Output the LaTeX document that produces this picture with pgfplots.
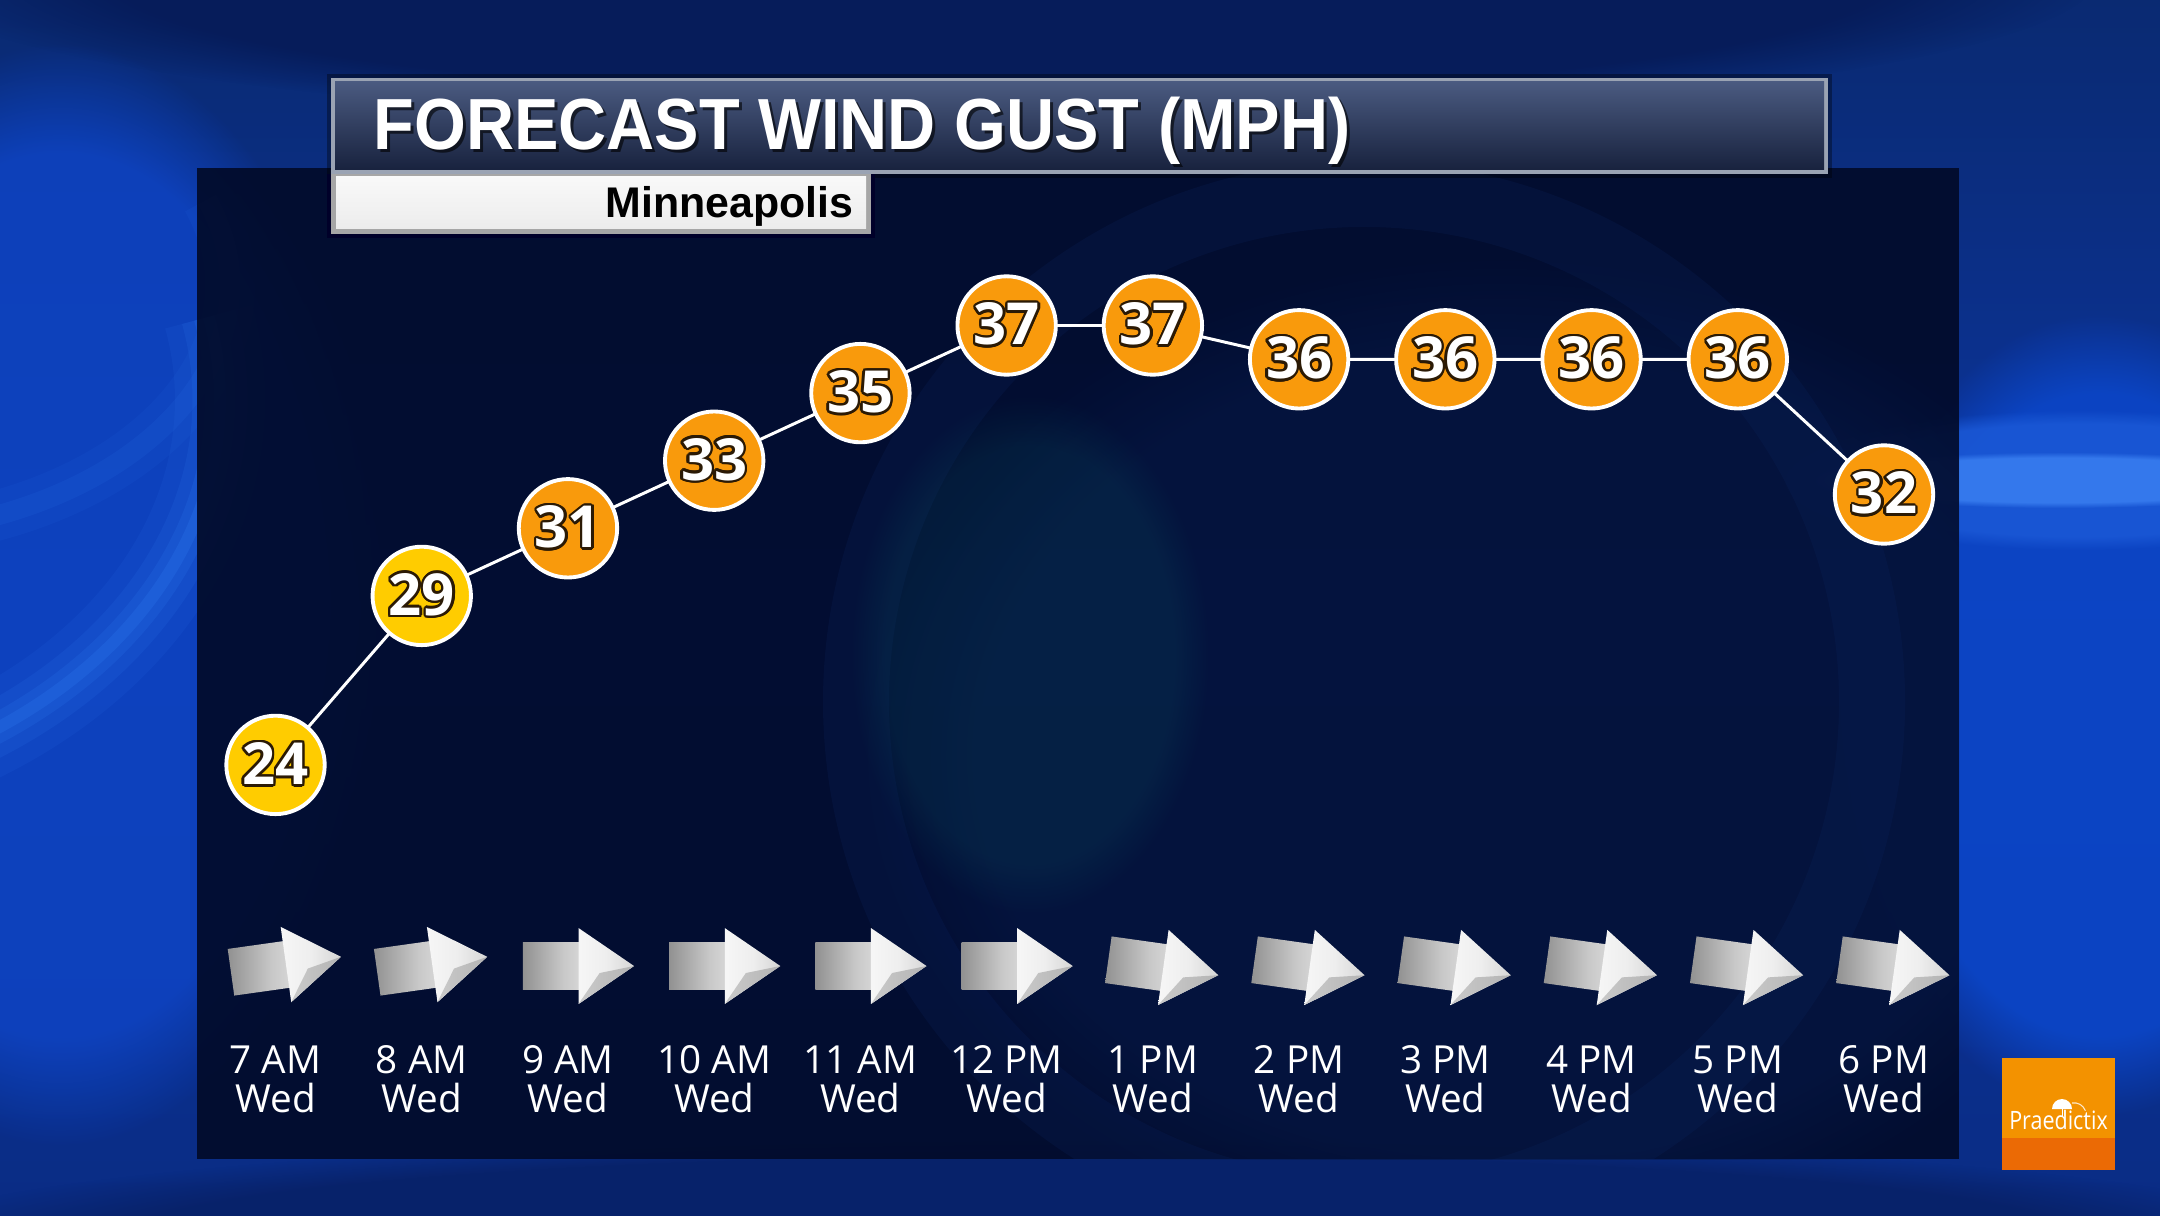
\documentclass[border=0pt]{standalone}
\usepackage{pgfplots}
\pgfplotsset{compat=1.18}
\usepackage{fontspec}
\usepackage[copies]{contour}
\usetikzlibrary{fadings}
\setmainfont{Open Sans}
\newfontfamily\titlefont[FakeStretch=0.92]{Liberation Sans}
\newfontfamily\subfont{Liberation Sans}
\newfontfamily\numfont{Open Sans}
\newfontfamily\logofont[FakeStretch=0.85]{Open Sans}

\definecolor{bgTop}{HTML}{0A2A72}
\definecolor{bgMid}{HTML}{0C35A0}
\definecolor{bgBot}{HTML}{0A2C84}
\definecolor{panelc}{HTML}{020B2A}
\definecolor{yel}{HTML}{FFCC00}
\definecolor{org}{HTML}{F99A0C}
\definecolor{numline}{HTML}{2B1A05}
\definecolor{arcblue}{HTML}{2D7AF0}
\definecolor{arrdark}{HTML}{6A6A6A}
\definecolor{arrmid}{HTML}{C8C8C8}
\definecolor{arrlight}{HTML}{EEEEEE}
\definecolor{arrhead}{HTML}{BDBDBD}
\definecolor{arrlow1}{HTML}{D6D6D6}
\definecolor{arrlow2}{HTML}{A8A8A8}
\definecolor{titTop}{HTML}{4A5A80}
\definecolor{titBot}{HTML}{18223E}
\definecolor{titBorder}{HTML}{9AA3B3}
\definecolor{logoA}{HTML}{F39200}
\definecolor{logoB}{HTML}{EB6A05}

\pgfdeclarehorizontalshading{shaftsh}{100bp}{color(0bp)=(arrdark); color(60bp)=(arrmid); color(100bp)=(arrlight)}
\pgfdeclarehorizontalshading{headsh}{100bp}{color(0bp)=(white); color(50bp)=(arrlight); color(100bp)=(arrhead)}
\pgfdeclarehorizontalshading{headsh2}{100bp}{color(0bp)=(arrlow1); color(100bp)=(arrlow2)}

\pgfdeclareplotmark{windarrow}{%
  \pgfpathmoveto{\pgfpoint{-12.8pt}{-6.7pt}}%
  \pgfpathlineto{\pgfpoint{3.5pt}{-6.7pt}}%
  \pgfpathlineto{\pgfpoint{3.5pt}{6.7pt}}%
  \pgfpathlineto{\pgfpoint{-12.8pt}{6.7pt}}%
  \pgfpathclose
  \pgfshadepath{shaftsh}{0}\pgfusepath{}%
  \pgfpathmoveto{\pgfpoint{3pt}{10.8pt}}%
  \pgfpathlineto{\pgfpoint{18.8pt}{0pt}}%
  \pgfpathlineto{\pgfpoint{3pt}{-10.8pt}}%
  \pgfpathclose
  \pgfshadepath{headsh}{0}\pgfusepath{}%
  \pgfpathmoveto{\pgfpoint{3pt}{-10.8pt}}%
  \pgfpathlineto{\pgfpoint{18.8pt}{0pt}}%
  \pgfpathlineto{\pgfpoint{9pt}{-2pt}}%
  \pgfpathclose
  \pgfshadepath{headsh2}{0}\pgfusepath{}%
}

\contourlength{0.7pt}
\contournumber{16}

\pgfplotstableread[col sep=comma]{
x,y
0,24
1,29
2,31
3,33
4,35
5,37
6,37
7,36
8,36
9,36
10,36
11,32
}\gusts

\pgfplotstableread[col sep=comma]{
x,y,lab
0,14.86,7 AM
1,14.86,8 AM
2,14.86,9 AM
3,14.86,10 AM
4,14.86,11 AM
5,14.86,12 PM
6,14.86,1 PM
7,14.86,2 PM
8,14.86,3 PM
9,14.86,4 PM
10,14.86,5 PM
11,14.86,6 PM
}\hours

\begin{document}
\begin{tikzpicture}
\useasboundingbox (0,0) rectangle (21.6,12.15);
% background
\shade[top color=bgTop, bottom color=bgBot, middle color=bgMid] (0,0) rectangle (21.6,12.15);
\begin{scope}
\clip (0,0) rectangle (21.6,12.15);
\fill[color={rgb,255:red,6;green,28;blue,90}, path fading=circle with fuzzy edge 20 percent] (10,12.4) ellipse [x radius=11, y radius=1.5];
\fill[color={rgb,255:red,14;green,68;blue,196}, path fading=circle with fuzzy edge 20 percent, opacity=0.85] (0.6,6.2) ellipse [x radius=3.2, y radius=5.5];
% bright crescent on the left
\foreach \w/\o in {0.9/0.10, 0.55/0.14, 0.3/0.18, 0.12/0.25}
  \draw[arcblue, line width=\w cm, opacity=\o] (-3,8.15) ++(-80:5.2 and 4.0) arc[start angle=-80, end angle=12, x radius=5.2, y radius=4.0];
\foreach \w/\o in {0.5/0.08, 0.2/0.12}
  \draw[arcblue, line width=\w cm, opacity=\o] (-1.5,9.3) ++(-70:3.8 and 2.5) arc[start angle=-70, end angle=20, x radius=3.8, y radius=2.5];
% right side glow and streak
\fill[color={rgb,255:red,12;green,70;blue,200}, path fading=circle with fuzzy edge 20 percent, opacity=0.9] (21.0,5.0) ellipse [x radius=2.6, y radius=4.0];
\fill[color={rgb,255:red,28;green,90;blue,216}, path fading=circle with fuzzy edge 20 percent, opacity=0.8] (20.8,7.35) ellipse [x radius=3.0, y radius=0.7];
\fill[color={rgb,255:red,52;green,120;blue,236}, path fading=circle with fuzzy edge 20 percent] (20.6,7.35) ellipse [x radius=2.6, y radius=0.28];
\fill[color={rgb,255:red,7;green,30;blue,95}, path fading=circle with fuzzy edge 20 percent, opacity=0.7] (11,-0.2) ellipse [x radius=12, y radius=1.0];
\end{scope}
% panel
\fill[panelc, opacity=0.93] (1.97,0.56) rectangle (19.59,10.47);
\begin{scope}
\clip (1.97,0.56) rectangle (19.59,10.47);
\fill[color={rgb,255:red,6;green,24;blue,70}, path fading=circle with fuzzy edge 20 percent, opacity=0.6] (15.0,4.6) ellipse [x radius=6.5, y radius=5.0];
\fill[even odd rule, color={rgb,255:red,14;green,42;blue,105}, opacity=0.18] (13.64,5.13) circle[radius=5.41] (13.64,5.13) circle[radius=4.75];
\fill[color={rgb,255:red,10;green,80;blue,96}, path fading=circle with fuzzy edge 20 percent, opacity=0.22] (10.3,5.6) ellipse [x radius=1.8, y radius=2.6];
\end{scope}

\begin{axis}[
  at={(1.97cm,0.56cm)}, anchor=south west,
  scale only axis, width=17.62cm, height=9.91cm,
  xmin=-0.537, xmax=11.513, ymin=12.34, ymax=41.66,
  hide axis, clip=false,
  /pgf/number format/assume math mode=true]
% connecting line
\addplot[white, line width=0.85pt, mark=none] table[x=x,y=y] {\gusts};
% yellow circles
\addplot[only marks, mark=*, mark size=14pt,
  mark options={fill=yel, draw=white, line width=1.1pt},
  nodes near coords={\fontsize{16.5}{17}\numfont\bfseries\contour{numline}{\pgfmathprintnumber{\pgfplotspointmeta}}},
  every node near coord/.append style={anchor=center, text=white, inner sep=0pt}]
  table[x=x,y=y] {
x y
0 24
1 29
};
% orange circles
\addplot[only marks, mark=*, mark size=14pt,
  mark options={fill=org, draw=white, line width=1.1pt},
  nodes near coords={\fontsize{16.5}{17}\numfont\bfseries\contour{numline}{\pgfmathprintnumber{\pgfplotspointmeta}}},
  every node near coord/.append style={anchor=center, text=white, inner sep=0pt}]
  table[x=x,y=y] {
x y
2 31
3 33
4 35
5 37
6 37
7 36
8 36
9 36
10 36
11 32
};
% wind arrows
\addplot[only marks, mark=windarrow, mark options={rotate=8}] coordinates {(0,18.05) (1,18.05)};
\addplot[only marks, mark=windarrow] coordinates {(2,18.05) (3,18.05) (4,18.05) (5,18.05)};
\addplot[only marks, mark=windarrow, mark options={rotate=-8}] coordinates {(6,18.05) (7,18.05) (8,18.05) (9,18.05) (10,18.05) (11,18.05)};
% hour labels
\addplot[draw=none, mark=none, point meta=explicit symbolic,
  nodes near coords={\pgfplotspointmeta},
  every node near coord/.append style={anchor=base, text=white, inner sep=0pt, font=\fontsize{11}{11}\selectfont}]
  table[x=x, y=y, meta=lab, col sep=comma] {\hours};
\addplot[draw=none, mark=none,
  nodes near coords={Wed},
  every node near coord/.append style={anchor=base, text=white, inner sep=0pt, font=\fontsize{11}{11}\selectfont}]
  coordinates {(0,13.73) (1,13.73) (2,13.73) (3,13.73) (4,13.73) (5,13.73) (6,13.73) (7,13.73) (8,13.73) (9,13.73) (10,13.73) (11,13.73)};
\end{axis}

% title box
\fill[black, opacity=0.35] (3.27,10.37) rectangle (18.32,11.41);
\fill[titBorder] (3.31,10.41) rectangle (18.28,11.37);
\shade[top color=titTop, bottom color=titBot] (3.35,10.45) rectangle (18.24,11.33);
\node[anchor=base west, inner sep=0pt, text=black, opacity=0.6] at (3.76,10.62) {\fontsize{20.6}{22}\titlefont\bfseries FORECAST WIND GUST (MPH)};
\node[anchor=base west, inner sep=0pt, text=white] at (3.73,10.65) {\fontsize{20.6}{22}\titlefont\bfseries FORECAST WIND GUST (MPH)};
% subtitle box
\fill[black!60!blue!40!black] (3.27,9.77) rectangle (8.75,10.41);
\fill[gray!70] (3.31,9.81) rectangle (8.71,10.41);
\shade[top color=white!95!gray, bottom color=white!85!gray] (3.36,9.86) rectangle (8.66,10.38);
\node[anchor=base east, inner sep=0pt, text=black] at (8.54,9.97) {\fontsize{12.2}{13}\subfont\bfseries Minneapolis};

% logo
\fill[logoA] (20.02,0.77) rectangle (21.15,1.57);
\fill[logoB] (20.02,0.45) rectangle (21.15,0.77);
\fill[white] (20.52,1.06) arc[start angle=180, end angle=0, radius=0.1] -- cycle;
\draw[white, line width=0.3pt] (20.62,1.06) -- (20.62,0.99);
\draw[white!80!logoA, line width=0.3pt] (20.72,1.12) arc[start angle=100, end angle=20, radius=0.12];
\node[anchor=base, inner sep=0pt, text=white] at (20.585,0.86) {\fontsize{7.2}{8}\logofont Praedictix};
\end{tikzpicture}
\end{document}
